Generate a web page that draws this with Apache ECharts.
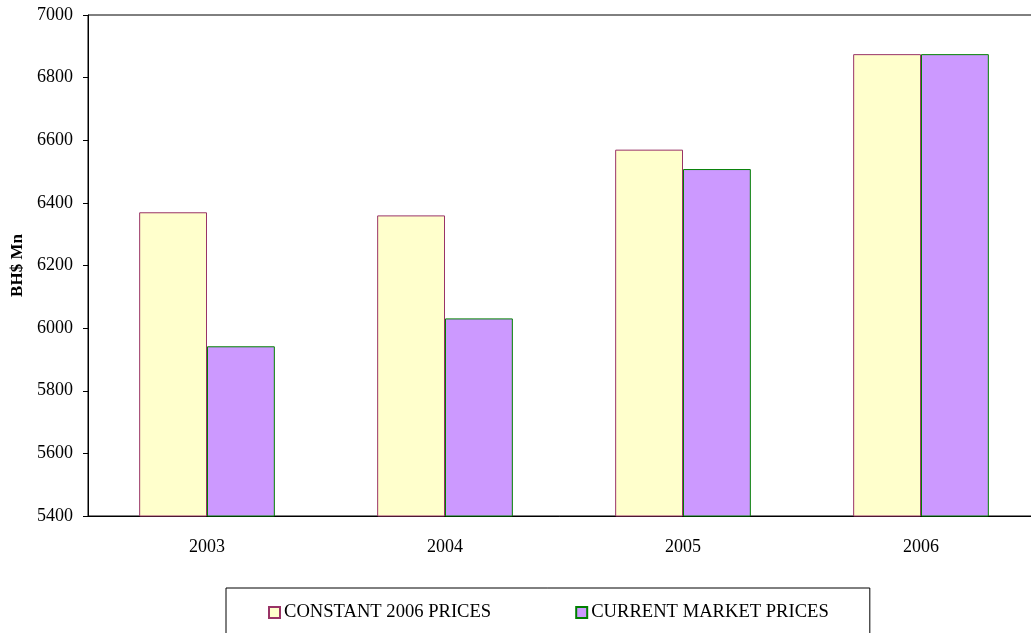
<!DOCTYPE html>
<html>
<head>
<meta charset="utf-8">
<script src="https://cdn.jsdelivr.net/npm/echarts@6/dist/echarts.min.js"></script>
<style>
  html, body { margin: 0; padding: 0; background: #fff; }
  #chart { width: 1031px; height: 633px; }
</style>
</head>
<body>
<div id="chart"></div>
<script>
const years = ["2003", "2004", "2005", "2006"];
const constantPrices = [6370, 6360, 6570, 6875];
const currentPrices = [5942, 6031, 6508, 6875];

const chartDom = document.getElementById("chart");
const myChart = echarts.init(chartDom);
const serif = "Liberation Serif";

const options = {
  animation: false,
  grid: {
    left: 88,
    top: 15,
    width: 952,
    bottom: 117,
    outerBoundsMode: "none",
    containLabel: false,
    show: true,
    borderColor: "#000",
    borderWidth: 1,
  },
  legend: {
    left: 226,
    top: 588,
    padding: [15, 41, 20, 42],
    itemGap: 84,
    itemWidth: 11,
    itemHeight: 11,
    icon: "rect",
    borderColor: "#000",
    borderWidth: 1,
    textStyle: { fontFamily: serif, fontSize: 18.6, color: "#000", padding: [0, 0, 0, -1] },
    data: ["CONSTANT 2006 PRICES", "CURRENT MARKET PRICES"],
  },
  xAxis: {
    type: "category",
    data: years,
    axisLine: { lineStyle: { color: "#000" } },
    axisTick: { length: 5, lineStyle: { color: "#000" } },
    axisLabel: { color: "#000", fontFamily: serif, fontSize: 18, margin: 22 },
  },
  yAxis: {
    type: "value",
    min: 5400,
    max: 7000,
    interval: 200,
    name: "BH$ Mn",
    nameLocation: "middle",
    nameGap: 61,
    nameTextStyle: { fontFamily: serif, fontSize: 17, fontWeight: "bold", color: "#000" },
    axisLine: { show: true, lineStyle: { color: "#000" } },
    axisTick: { show: true, length: 5, lineStyle: { color: "#000" } },
    splitLine: { show: false },
    axisLabel: {
      color: "#000",
      fontFamily: serif,
      fontSize: 18,
      margin: 15,
      formatter: (v) => String(v),
    },
  },
  series: [
    {
      name: "CONSTANT 2006 PRICES",
      type: "bar",
      data: constantPrices,
      barGap: "0%",
      barCategoryGap: "43%",
      itemStyle: { color: "#FFFFCC", borderColor: "#993366", borderWidth: 1 },
    },
    {
      name: "CURRENT MARKET PRICES",
      type: "bar",
      data: currentPrices,
      itemStyle: { color: "#CC99FF", borderColor: "#008000", borderWidth: 1 },
    },
  ],
};

myChart.setOption(options);
</script>
</body>
</html>
